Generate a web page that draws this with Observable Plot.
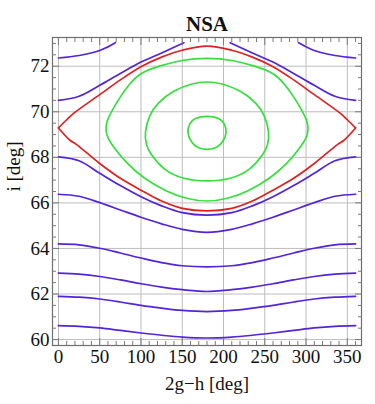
<!DOCTYPE html>
<html>
<head>
<meta charset="utf-8">
<script src="https://cdn.jsdelivr.net/npm/d3@7"></script>
<script src="https://cdn.jsdelivr.net/npm/@observablehq/plot@0.6"></script>
<style>
  html, body { margin: 0; padding: 0; background: #fff; }
  #chart svg, #chart svg text { font-family: 'Liberation Serif', serif !important; }
</style>
</head>
<body>
<div id="chart"></div>
<script>
const titleText = "NSA";
const xLabel = "2g\u2212h [deg]";
const yLabel = "i [deg]";
const xTicks = [0, 50, 100, 150, 200, 250, 300, 350];
const yTicks = [60, 62, 64, 66, 68, 70, 72];

// sample positions (2g-h, deg) for the circulating curves
const xs = [0, 25, 50, 75, 100, 125, 150, 180, 210, 235, 260, 285, 310, 335, 360];
// lower circulating curves (i, deg)
const blue1 = [60.61, 60.58, 60.51, 60.40, 60.29, 60.19, 60.11, 60.07, 60.11, 60.19, 60.29, 60.40, 60.51, 60.58, 60.61];
const blue2 = [61.90, 61.86, 61.78, 61.65, 61.50, 61.38, 61.28, 61.23, 61.28, 61.38, 61.50, 61.65, 61.78, 61.86, 61.90];
const blue3 = [62.92, 62.87, 62.77, 62.62, 62.45, 62.30, 62.19, 62.11, 62.19, 62.30, 62.45, 62.62, 62.77, 62.87, 62.92];
const blue4 = [64.20, 64.16, 64.01, 63.80, 63.58, 63.38, 63.24, 63.19, 63.24, 63.38, 63.58, 63.80, 64.01, 64.16, 64.20];
const blue5 = [66.38, 66.29, 66.01, 65.69, 65.37, 65.08, 64.84, 64.71, 64.84, 65.08, 65.37, 65.69, 66.01, 66.29, 66.38];
const blue6 = [68.02, 67.85, 67.30, 66.76, 66.27, 65.87, 65.57, 65.46, 65.57, 65.87, 66.27, 66.76, 67.30, 67.85, 68.02];

// upper circulating curves (clipped at the top)
const upA_left_x = [0, 25, 50, 69];
const upA_left_i = [72.36, 72.47, 72.69, 73.03];
const upA_right_x = [291, 310, 335, 360];
const upA_right_i = [73.03, 72.69, 72.47, 72.36];
const upB_left_x = [0, 25, 50, 75, 100, 125, 152];
const upB_left_i = [70.50, 70.68, 71.16, 71.68, 72.18, 72.58, 73.03];
const upB_right_x = [208, 235, 260, 285, 310, 335, 360];
const upB_right_i = [73.03, 72.58, 72.18, 71.68, 71.16, 70.68, 70.50];

// separatrix
const sepX = [0, 10, 18, 50, 75, 100, 125, 150, 180, 210, 235, 260, 285, 310, 342, 350, 360];
const sepUpper = [69.29, 69.65, 69.92, 70.75, 71.40, 71.98, 72.40, 72.70, 72.88, 72.70, 72.40, 71.98, 71.40, 70.75, 69.92, 69.65, 69.29];
const sepLowerX = [0, 14, 22, 50, 75, 100, 125, 150, 180, 210, 235, 260, 285, 310, 338, 346, 360];
const sepLower = [69.29, 68.75, 68.56, 67.73, 67.08, 66.56, 66.08, 65.76, 65.65, 65.76, 66.08, 66.56, 67.08, 67.73, 68.56, 68.75, 69.29];

// librating curves (closed loops)
const g1x = [180, 149, 123, 99, 86.7, 74.6, 64, 58.5, 57, 59.5, 66.5, 82.7, 102.8, 131, 155, 180, 205, 229, 257.2, 277.3, 293.5, 300.5, 303, 301.5, 296, 285.4, 273.3, 261, 237, 211];
const g1i = [72.37, 72.28, 72.02, 71.72, 71.25, 70.65, 70.00, 69.60, 69.20, 68.85, 68.46, 67.73, 67.08, 66.49, 66.17, 66.04, 66.17, 66.49, 67.08, 67.73, 68.46, 68.85, 69.20, 69.60, 70.00, 70.65, 71.25, 71.72, 72.02, 72.28];
const g2x = [180, 163, 139, 119, 110, 104.3, 106, 111, 127, 151, 180, 209, 233, 249, 254, 255.7, 250, 241, 221, 197];
const g2i = [71.33, 71.26, 70.94, 70.36, 69.85, 69.10, 68.55, 68.17, 67.44, 67.03, 66.94, 67.03, 67.44, 68.17, 68.55, 69.10, 69.85, 70.36, 70.94, 71.26];
const g3x = [180, 166, 159.3, 157, 161.3, 168, 180, 192, 198.7, 203, 200.7, 194];
const g3i = [69.80, 69.70, 69.48, 69.07, 68.68, 68.45, 68.35, 68.45, 68.68, 69.07, 69.48, 69.70];

const BLUE = "#5224dc", RED = "#dc2222", GREEN = "#33e03c";

const zip = (X, I) => X.map((x, k) => ({x, i: I[k]}));
const blues = [blue1, blue2, blue3, blue4, blue5, blue6].map(b => zip(xs, b));
const uppers = [zip(upA_left_x, upA_left_i), zip(upA_right_x, upA_right_i), zip(upB_left_x, upB_left_i), zip(upB_right_x, upB_right_i)];

const xMinor = d3.range(0, 361, 10).filter(v => v % 50 !== 0);
const yMinor = d3.range(60, 73.01, 0.5).filter(v => v % 2 !== 0);

const FONT = "'Liberation Serif', serif";
const axisStyle = {stroke: "#7a7a7a"};
const none = () => "";

const chart = Plot.plot({
  width: 375,
  height: 404,
  marginLeft: 52,
  marginRight: 14,
  marginTop: 37,
  marginBottom: 59,
  style: {fontFamily: FONT, background: "#fff"},
  x: {domain: [-7.2, 367.2]},
  y: {domain: [59.74, 73.26]},
  marks: [
    Plot.gridX(xTicks, {stroke: "#bdbdbd", strokeOpacity: 1, strokeWidth: 1}),
    Plot.gridY(yTicks, {stroke: "#bdbdbd", strokeOpacity: 1, strokeWidth: 1}),
    ...blues.map(d => Plot.line(d, {x: "x", y: "i", stroke: BLUE, strokeWidth: 1.7, curve: "catmull-rom"})),
    ...uppers.map(d => Plot.line(d, {x: "x", y: "i", stroke: BLUE, strokeWidth: 1.7, curve: "catmull-rom"})),
    Plot.line(zip(g1x, g1i), {x: "x", y: "i", stroke: GREEN, strokeWidth: 1.7, curve: "basis-closed"}),
    Plot.line(zip(g2x, g2i), {x: "x", y: "i", stroke: GREEN, strokeWidth: 1.7, curve: "basis-closed"}),
    Plot.line(zip(g3x, g3i), {x: "x", y: "i", stroke: GREEN, strokeWidth: 1.7, curve: "catmull-rom-closed"}),
    Plot.line(zip(sepX, sepUpper), {x: "x", y: "i", stroke: RED, strokeWidth: 1.7, curve: "catmull-rom"}),
    Plot.line(zip(sepLowerX, sepLower), {x: "x", y: "i", stroke: RED, strokeWidth: 1.7, curve: "catmull-rom"}),
    Plot.frame({stroke: "#6e6e6e", strokeWidth: 1.2}),
    // inward ticks
    Plot.axisX(xTicks, {anchor: "bottom", tickSize: -7, tickFormat: none, label: null, ...axisStyle}),
    Plot.axisX(xMinor, {anchor: "bottom", tickSize: -4, tickFormat: none, label: null, ...axisStyle}),
    Plot.axisX(xTicks, {anchor: "top", tickSize: -7, tickFormat: none, label: null, ...axisStyle}),
    Plot.axisX(xMinor, {anchor: "top", tickSize: -4, tickFormat: none, label: null, ...axisStyle}),
    Plot.axisY(yTicks, {anchor: "left", tickSize: -7, tickFormat: none, label: null, ...axisStyle}),
    Plot.axisY(yMinor, {anchor: "left", tickSize: -4, tickFormat: none, label: null, ...axisStyle}),
    Plot.axisY(yTicks, {anchor: "right", tickSize: -7, tickFormat: none, label: null, ...axisStyle}),
    Plot.axisY(yMinor, {anchor: "right", tickSize: -4, tickFormat: none, label: null, ...axisStyle}),
    // labels
    Plot.axisX(xTicks, {anchor: "bottom", tickSize: 0, tickPadding: 4, fontSize: 19, fill: "#111", stroke: null, label: null, fontFamily: FONT}),
    Plot.axisY(yTicks, {anchor: "left", tickSize: 0, tickPadding: 3, fontSize: 19, fill: "#111", stroke: null, label: null, fontFamily: FONT}),
    Plot.text([xLabel], {frameAnchor: "bottom", dy: 44, lineAnchor: "bottom", fontSize: 19, fill: "#111", fontFamily: FONT}),
    Plot.text([yLabel], {frameAnchor: "left", dx: -39, rotate: -90, fontSize: 19, fill: "#111", fontFamily: FONT}),
    Plot.text([titleText], {frameAnchor: "top", dy: -7, lineAnchor: "bottom", fontSize: 21, fontWeight: "bold", fill: "#111", fontFamily: FONT})
  ]
});
document.getElementById("chart").appendChild(chart);
</script>
</body>
</html>
